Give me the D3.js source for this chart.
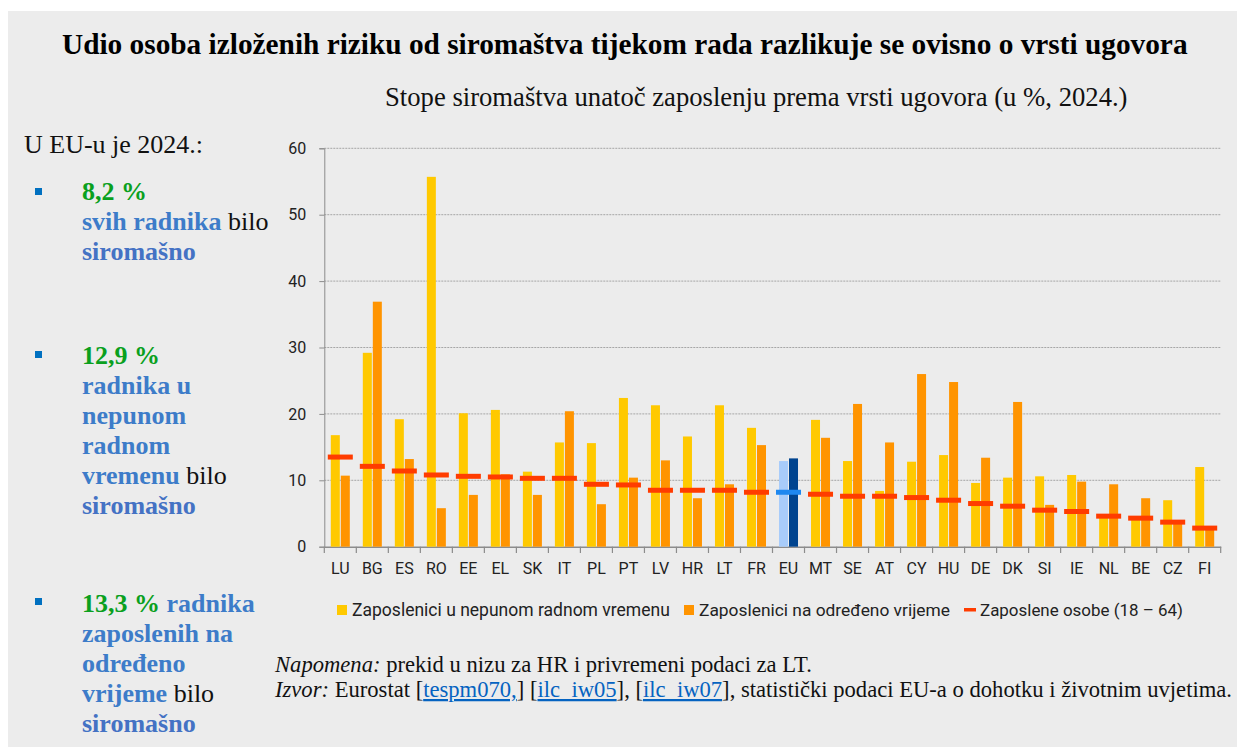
<!DOCTYPE html>
<html><head><meta charset="utf-8">
<script src="https://cdn.jsdelivr.net/npm/d3@7"></script>
<style>body{margin:0;background:#fff}svg{display:block}</style>
</head><body>
<svg id="c" width="1237" height="747"></svg>
<script>
const categories = ["LU","BG","ES","RO","EE","EL","SK","IT","PL","PT","LV","HR","LT","FR","EU","MT","SE","AT","CY","HU","DE","DK","SI","IE","NL","BE","CZ","FI"];
const partTime  = [16.8,29.2,19.2,55.7,20.1,20.6,11.3,15.7,15.6,22.4,21.3,16.6,21.3,17.9,12.9,19.1,12.9,8.4,12.8,13.8,9.6,10.4,10.6,10.8,4.4,4.2,7.0,12.0];
const temporary = [10.7,36.9,13.2,5.8,7.8,10.9,7.8,20.4,6.4,10.4,13.0,7.3,9.4,15.3,13.3,16.4,21.5,15.7,26.0,24.8,13.4,21.8,6.3,9.8,9.4,7.3,3.5,2.6];
const employed  = [13.5,12.1,11.4,10.8,10.6,10.5,10.3,10.3,9.4,9.3,8.5,8.5,8.5,8.2,8.2,7.9,7.6,7.6,7.4,7.0,6.5,6.1,5.5,5.3,4.6,4.3,3.7,2.8];
const yTicks = [0,10,20,30,40,50,60];
const seriesNames = ["Zaposlenici u nepunom radnom vremenu","Zaposlenici na određeno vrijeme","Zaposlene osobe (18 – 64)"];
const title = "Udio osoba izloženih riziku od siromaštva tijekom rada razlikuje se ovisno o vrsti ugovora";
const subtitle = "Stope siromaštva unatoč zaposlenju prema vrsti ugovora (u %, 2024.)";

const SERIF = "'Liberation Serif','Times New Roman',serif";
const SANS = "Roboto,'Liberation Sans',Arial,sans-serif";
const svg = d3.select("#c");

svg.append("rect").attr("x",8).attr("y",11).attr("width",1229).attr("height",736).attr("fill","#ECECEC");

function fit(sel, w){
  const cur = sel.node().getComputedTextLength();
  const fs = parseFloat(sel.attr("font-size"));
  sel.attr("font-size", (fs*w/cur).toFixed(2));
}

const t = svg.append("text").attr("x",62).attr("y",54).attr("font-family",SERIF).attr("font-weight","bold")
  .attr("font-size",26).attr("fill","#000").text(title);
fit(t, 1126);
const st = svg.append("text").attr("x",385).attr("y",106).attr("font-family",SERIF)
  .attr("font-size",23).attr("fill","#111").text(subtitle);
fit(st, 743);

// Left panel
const GREEN="#0AA01E", BLUE="#3D7CC9", BLUE2="#4472C4", BUL="#0070C0";
svg.append("text").attr("x",24).attr("y",153).attr("font-family",SERIF).attr("font-size",26).attr("fill","#111").text("U EU-u je 2024.:");
const blocks = [
  {by:188, lines:[ [["8,2 %",GREEN,1]], [["svih radnika",BLUE,1],[" bilo","#111",0]], [["siromašno",BLUE2,1]] ], y0:200},
  {by:351, lines:[ [["12,9 %",GREEN,1]], [["radnika u",BLUE,1]], [["nepunom",BLUE,1]], [["radnom",BLUE,1]], [["vremenu",BLUE,1],[" bilo","#111",0]], [["siromašno",BLUE2,1]] ], y0:364},
  {by:598, lines:[ [["13,3 %",GREEN,1],[" radnika",BLUE,1]], [["zaposlenih na",BLUE,1]], [["određeno",BLUE,1]], [["vrijeme",BLUE,1],[" bilo","#111",0]], [["siromašno",BLUE2,1]] ], y0:612}
];
blocks.forEach(b=>{
  svg.append("rect").attr("x",35).attr("y",b.by).attr("width",7).attr("height",7).attr("fill",BUL);
  b.lines.forEach((ln,i)=>{
    const tx = svg.append("text").attr("x",82).attr("y",b.y0+i*30).attr("font-family",SERIF).attr("font-size",26);
    ln.forEach(p=>tx.append("tspan").attr("fill",p[1]).attr("font-weight",p[2]?"bold":"normal").text(p[0]));
  });
});

// Chart
const x = d3.scaleBand().domain(categories).range([324.3,1220.7]).padding(0);
const y = d3.scaleLinear().domain([0,60]).range([546.7,148.3]);
const bw = x.bandwidth();
const barW = bw*9/32, gap = bw*1/32, dashW = bw*25/32;

const g = svg.append("g");
g.selectAll("line.grid").data(yTicks.filter(d=>d>0)).join("line").attr("class","grid")
  .attr("x1",324.3).attr("x2",1220.7).attr("y1",d=>y(d)).attr("y2",d=>y(d))
  .attr("stroke","#A6A6A6").attr("stroke-width",1).attr("stroke-dasharray","2,1");

const ya = g.append("g").attr("transform","translate(324.3,0)").call(d3.axisLeft(y).tickValues(yTicks).tickSize(5).tickPadding(13));
ya.select(".domain").attr("stroke","#8C8C8C");
ya.selectAll(".tick line").attr("stroke","#8C8C8C");
ya.selectAll(".tick text").attr("font-family",SANS).attr("font-size",16).attr("fill","#222");

const xa = g.append("g").attr("transform","translate(0,546.7)").call(d3.axisBottom(x).tickSize(0).tickPadding(16));
xa.select(".domain").attr("stroke","#8C8C8C").attr("stroke-width",1.5);
xa.selectAll(".tick text").attr("font-family",SANS).attr("font-size",16).attr("fill","#222");
g.selectAll("line.xt").data(d3.range(categories.length+1)).join("line").attr("class","xt")
  .attr("x1",d=>324.3+d*bw).attr("x2",d=>324.3+d*bw).attr("y1",546.7).attr("y2",553)
  .attr("stroke","#8C8C8C").attr("stroke-width",1.2);

const isEU = c => c==="EU";
g.selectAll("rect.pt").data(categories).join("rect").attr("class","pt")
  .attr("x",c=>x(c)+bw/2-gap/2-barW).attr("width",barW)
  .attr("y",(c,i)=>y(partTime[i])).attr("height",(c,i)=>y(0)-y(partTime[i]))
  .attr("fill",c=>isEU(c)?"#A8CCFA":"#FFC900");
g.selectAll("rect.tmp").data(categories).join("rect").attr("class","tmp")
  .attr("x",c=>x(c)+bw/2+gap/2).attr("width",barW)
  .attr("y",(c,i)=>y(temporary[i])).attr("height",(c,i)=>y(0)-y(temporary[i]))
  .attr("fill",c=>isEU(c)?"#00448F":"#FF9400");
g.selectAll("rect.emp").data(categories).join("rect").attr("class","emp")
  .attr("x",c=>x(c)+bw/2-dashW/2).attr("width",dashW)
  .attr("y",(c,i)=>y(employed[i])-2.5).attr("height",5)
  .attr("fill",c=>isEU(c)?"#1E88F0":"#FF3C00");

// Legend
const lg = svg.append("g");
const legendX = [{sx:337,tx:352,w:318},{sx:684,tx:699,w:251},{sx:964,tx:980,w:203}];
const legCol = ["#FFC900","#FF9400","#FF3C00"];
seriesNames.forEach((n,i)=>{
  if(i<2) lg.append("rect").attr("x",legendX[i].sx).attr("y",605).attr("width",10).attr("height",10).attr("fill",legCol[i]);
  else lg.append("rect").attr("x",legendX[i].sx).attr("y",608).attr("width",12).attr("height",3.5).attr("fill",legCol[i]);
  const tt = lg.append("text").attr("x",legendX[i].tx).attr("y",616).attr("font-family",SANS).attr("font-size",15).attr("fill","#222").text(n);
  fit(tt, legendX[i].w);
});

// Footnotes
const f1 = svg.append("text").attr("x",275).attr("y",672).attr("font-family",SERIF).attr("font-size",20).attr("fill","#111");
f1.append("tspan").attr("font-style","italic").text("Napomena:");
f1.append("tspan").text(" prekid u nizu za HR i privremeni podaci za LT.");
const f2 = svg.append("text").attr("x",275).attr("y",697).attr("font-family",SERIF).attr("font-size",20).attr("fill","#111");
const LINK = "#0563C1";
[["Izvor:",0,1],[" Eurostat [",0,0],["tespm070,",1,0],["] [",0,0],["ilc_iw05",1,0],["], [",0,0],["ilc_iw07",1,0],["], statistički podaci EU-a o dohotku i životnim uvjetima.",0,0]]
.forEach(p=>{
  const ts = f2.append("tspan").text(p[0]);
  if(p[2]) ts.attr("font-style","italic");
  if(p[1]) ts.attr("fill",LINK).attr("text-decoration","underline");
});
fit(f2, 957);
f1.attr("font-size", f2.attr("font-size"));
</script>
</body></html>
